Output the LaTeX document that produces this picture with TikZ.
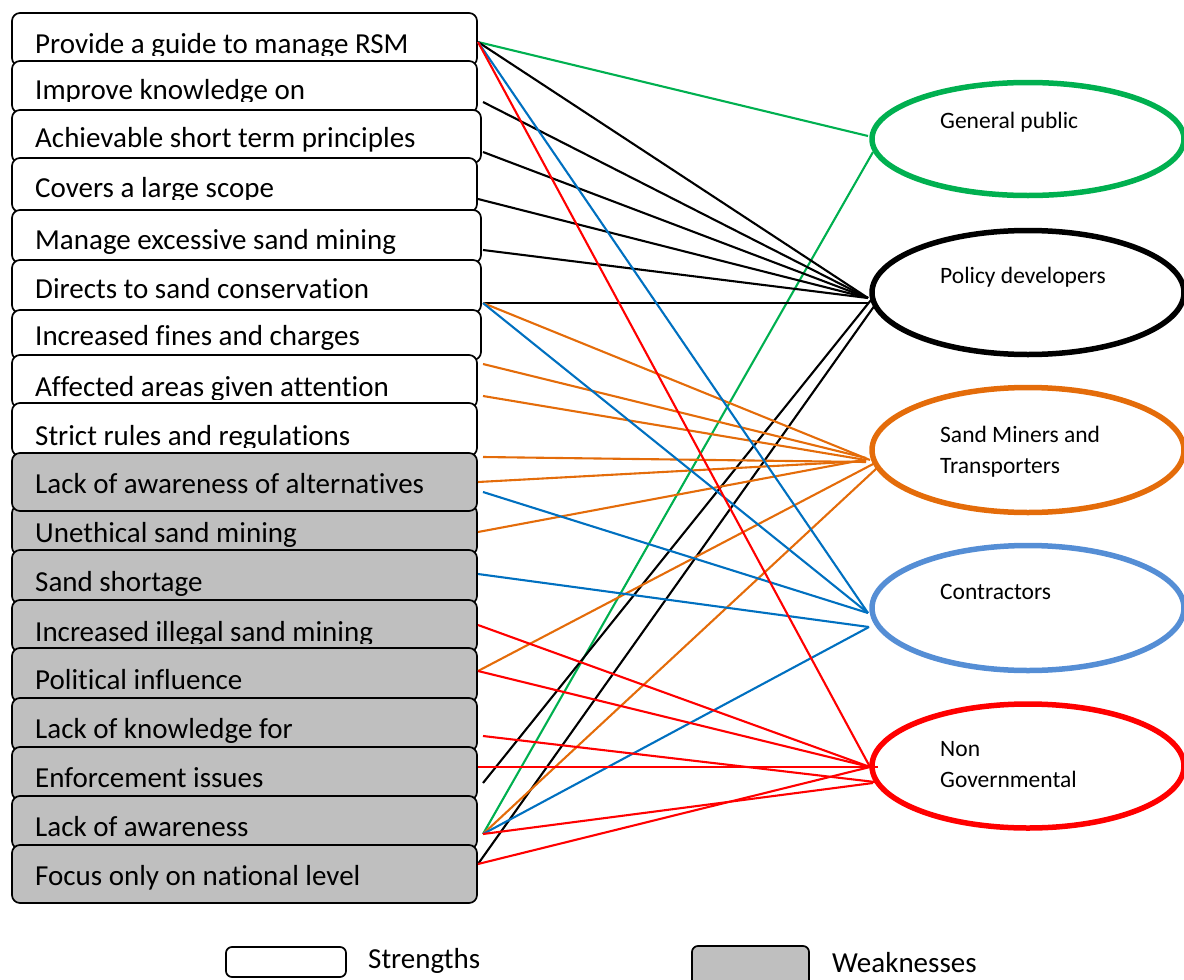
\documentclass[tikz,border=0pt]{standalone}
\usepackage{fontspec}
\setmainfont{Carlito}[Ligatures={NoCommon}]
\usetikzlibrary{shapes.geometric}

\definecolor{gpgreen}{HTML}{00B050}
\definecolor{smorange}{HTML}{E46C0A}
\definecolor{coblue}{HTML}{0070C0}
\definecolor{coring}{HTML}{558ED5}
\definecolor{ngred}{HTML}{FF0000}
\definecolor{boxgray}{HTML}{BFBFBF}

% one factor box: name, style, top, bottom, right edge, baseline, text clip line, text
\newcommand\rsmitem[8]{%
  \node[#2,anchor=north west,minimum width={#5-12},minimum height={#4-#3}] (#1) at (12,#3) {};
  \begin{scope}
    \clip (12,#3) rectangle (#5,#7);
    \node[itemtext] (#1t) at (35,#6) {#8};
  \end{scope}}

\begin{document}
\begin{tikzpicture}[x=1pt,y=-1pt,
  factorbox/.style={draw=black,line width=1.7pt,rounded corners=8pt,inner sep=0pt,outer sep=0pt},
  strength/.style={factorbox,fill=white},
  weakness/.style={factorbox,fill=boxgray},
  itemtext/.style={anchor=base west,inner sep=0pt,font=\fontsize{29}{35}\selectfont},
  stake/.style={ellipse,line width=5.5pt,minimum width=312pt,inner sep=0pt},
  staketext/.style={anchor=base west,inner sep=0pt,font=\fontsize{23.5}{28}\selectfont},
  link/.style={line width=2.1pt}]
\useasboundingbox (0,0) rectangle (1184,980);
\clip (0,0) rectangle (1184,980);

% factor boxes (strengths white, weaknesses grey)
\rsmitem{b1}{strength}{13}{66}{477}{53}{55}{Provide a guide to manage RSM}
\rsmitem{b2}{strength}{61}{113}{477}{99.5}{101}{Improve knowledge on}
\rsmitem{b3}{strength}{110}{163}{481}{147}{158}{Achievable short term principles}
\rsmitem{b4}{strength}{158}{212}{477}{197.5}{199.5}{Covers a large scope}
\rsmitem{b5}{strength}{210}{263}{481}{249}{254}{Manage excessive sand mining}
\rsmitem{b6}{strength}{260}{313}{481}{298.5}{300}{Directs to sand conservation}
\rsmitem{b7}{strength}{310}{360}{481}{345}{355}{Increased fines and charges}
\rsmitem{b8}{strength}{355}{408}{477}{396}{399}{Affected areas given attention}
\rsmitem{b9}{strength}{403}{456}{477}{445}{447}{Strict rules and regulations}
\rsmitem{b11}{weakness}{505}{555}{477}{542}{547}{Unethical sand mining}
\rsmitem{b10}{weakness}{453}{511}{477}{493}{505}{Lack of awareness of alternatives}
\rsmitem{b12}{weakness}{550}{604}{477}{591.5}{595}{Sand shortage}
\rsmitem{b13}{weakness}{600}{652}{477}{641}{643}{Increased illegal sand mining}
\rsmitem{b14}{weakness}{648}{702}{477}{689.5}{694}{Political influence}
\rsmitem{b15}{weakness}{698}{751}{477}{738.5}{742}{Lack of knowledge for}
\rsmitem{b16}{weakness}{747}{800}{477}{787.5}{792}{Enforcement issues}
\rsmitem{b17}{weakness}{796}{849}{477}{836.5}{841}{Lack of awareness}
\rsmitem{b18}{weakness}{845}{903}{477}{885}{900}{Focus only on national level}

% stakeholder ellipses
\node[stake,draw=gpgreen,minimum height=113pt] (gp) at (1028,139) {};
\node[stake,draw=black,minimum height=124pt] (pd) at (1028,292.5) {};
\node[stake,draw=smorange,minimum height=125pt] (sm) at (1028,450) {};
\node[stake,draw=coring,minimum height=125pt] (co) at (1028,608) {};
\node[stake,draw=ngred,minimum height=124pt] (ng) at (1028,766) {};

\node[staketext] (gpt) at (940,128) {General public};
\node[staketext] (pdt) at (940,283) {Policy developers};
\node[staketext] (smt) at (940,442) {Sand Miners and};
\node[staketext] (smt2) at (940,473) {Transporters};
\node[staketext] (cot) at (940,599) {Contractors};
\node[staketext] (ngt) at (940,756) {Non};
\node[staketext] (ngt2) at (940,787) {Governmental};

% line ends beside the factor boxes
\coordinate (o1) at (478,42);
\coordinate (o2) at (483,102);
\coordinate (o3) at (483,152);
\coordinate (o4) at (478,199);
\coordinate (o5) at (483,250);
\coordinate (o6) at (483,303);
\coordinate (o7) at (483,364);
\coordinate (o8) at (483,396);
\coordinate (o9) at (483,457);
\coordinate (o10a) at (478,482);
\coordinate (o10b) at (483,492);
\coordinate (o11) at (478,532);
\coordinate (o12) at (478,574);
\coordinate (o13) at (478,625);
\coordinate (o14) at (478,671);
\coordinate (o15) at (483,736);
\coordinate (o16a) at (478,767);
\coordinate (o16b) at (483,783);
\coordinate (o17) at (483,834);
\coordinate (o18) at (478,864);

% line ends at the stakeholders
\coordinate (gpa) at (868,136);
\coordinate (gpb) at (873,152);
\coordinate (pda) at (868,298);
\coordinate (pdb) at (868,303);
\coordinate (pdc) at (871,300);
\coordinate (pdd) at (875,305);
\coordinate (sma) at (870,460);
\coordinate (smb) at (866,458);
\coordinate (smc) at (866,460);
\coordinate (smd) at (866,462);
\coordinate (sme) at (866,461);
\coordinate (smf) at (868,459);
\coordinate (smg) at (875,463);
\coordinate (smh) at (877,468);
\coordinate (coa) at (868,613);
\coordinate (cob) at (869,627);
\coordinate (nga) at (870,767);
\coordinate (ngb) at (878,767);
\coordinate (ngc) at (875,782);
\coordinate (ngd) at (873,783);

% general public
\draw[link,gpgreen] (o1) -- (gpa);
\draw[link,gpgreen] (o17) -- (gpb);
% policy developers
\draw[link,black] (o1) -- (pda);
\draw[link,black] (o2) -- (pda);
\draw[link,black] (o3) -- (pda);
\draw[link,black] (o4) -- (pda);
\draw[link,black] (o5) -- (pda);
\draw[link,black] (o6) -- (pdb);
\draw[link,black] (o16b) -- (pdc);
\draw[link,black] (o18) -- (pdd);
% sand miners and transporters
\draw[link,smorange] (o6) -- (sma);
\draw[link,smorange] (o7) -- (smb);
\draw[link,smorange] (o8) -- (smc);
\draw[link,smorange] (o9) -- (smd);
\draw[link,smorange] (o10a) -- (sme);
\draw[link,smorange] (o11) -- (smf);
\draw[link,smorange] (o14) -- (smg);
\draw[link,smorange] (o17) -- (smh);
% contractors
\draw[link,coblue] (o1) -- (coa);
\draw[link,coblue] (o6) -- (coa);
\draw[link,coblue] (o10b) -- (coa);
\draw[link,coblue] (o12) -- (cob);
\draw[link,coblue] (o17) -- (cob);
% non governmental
\draw[link,ngred] (o1) -- (nga);
\draw[link,ngred] (o13) -- (nga);
\draw[link,ngred] (o14) -- (nga);
\draw[link,ngred] (o15) -- (ngc);
\draw[link,ngred] (o16a) -- (ngb);
\draw[link,ngred] (o17) -- (ngd);
\draw[link,ngred] (o18) -- (nga);

% legend
\node[strength,rounded corners=6pt,anchor=north west,minimum width=120pt,minimum height=30pt] (ls) at (226,947) {};
\node[itemtext] (lst) at (368,968) {Strengths};
\node[weakness,rounded corners=6pt,anchor=north west,minimum width=117pt,minimum height=45pt] (lw) at (692,946) {};
\node[itemtext] (lwt) at (832,972) {Weaknesses};
\end{tikzpicture}
\end{document}
